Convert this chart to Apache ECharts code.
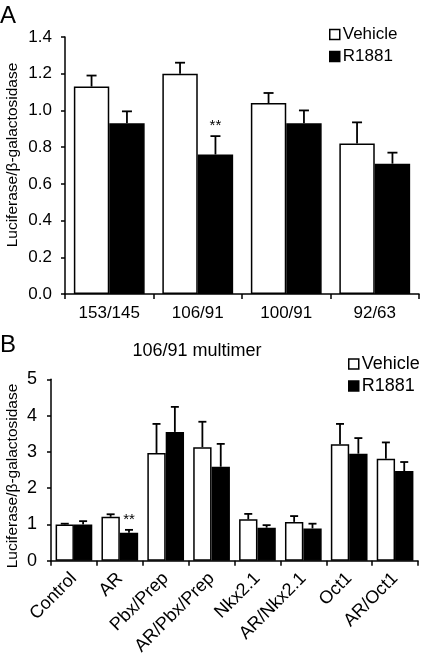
<!DOCTYPE html>
<html>
<head>
<meta charset="utf-8">
<script src="https://cdn.jsdelivr.net/npm/echarts@6/dist/echarts.min.js"></script>
<style>
html,body{margin:0;padding:0;background:#fff;}
#c{width:422px;height:662px;}
</style>
</head>
<body>
<div id="c"></div>
<script>
// Panel A data
const catsA = ['153/145', '106/91', '100/91', '92/63'];
const vehA = [1.13, 1.20, 1.04, 0.82];
const vehErrA = [0.06, 0.06, 0.055, 0.115];
const r1881A = [0.93, 0.76, 0.93, 0.71];
const r1881ErrA = [0.065, 0.10, 0.07, 0.06];
const sigA = [false, true, false, false];
const yTicksA = [0, 0.2, 0.4, 0.6, 0.8, 1.0, 1.2, 1.4];

// Panel B data
const catsB = ['Control', 'AR', 'Pbx/Prep', 'AR/Pbx/Prep', 'Nkx2.1', 'AR/Nkx2.1', 'Oct1', 'AR/Oct1'];
const vehB = [1.0, 1.21, 2.97, 3.13, 1.14, 1.07, 3.21, 2.81];
const vehErrB = [0.02, 0.07, 0.80, 0.70, 0.15, 0.16, 0.56, 0.45];
const r1881B = [1.0, 0.77, 3.55, 2.59, 0.91, 0.89, 2.95, 2.47];
const r1881ErrB = [0.09, 0.08, 0.69, 0.63, 0.07, 0.13, 0.43, 0.25];
const sigB = [false, true, false, false, false, false, false, false];
const yTicksB = [0, 1, 2, 3, 4, 5];

const FONT = '"Liberation Sans", Arial, sans-serif';
const GAP = 0.2;

function errSeries(name, vals, errs, sig, side, axisIdx, capW) {
  return {
    type: 'custom',
    name: name + ' err',
    xAxisIndex: axisIdx,
    yAxisIndex: axisIdx,
    z: 10,
    silent: true,
    encode: {x: 0, y: 1},
    data: vals.map((v, i) => [i, v, errs[i], sig[i] ? 1 : 0]),
    renderItem: function (params, api) {
      const i = api.value(0), v = api.value(1), e = api.value(2);
      const catW = api.size([1, 0])[0];
      const off = side * (1 - GAP) / 4 * catW;
      const base = api.coord([i, v]);
      const top = api.coord([i, v + e]);
      const x = base[0] + off;
      const children = [
        {type: 'line', shape: {x1: x, y1: base[1], x2: x, y2: top[1]}, style: {stroke: '#000', lineWidth: 1.8}},
        {type: 'line', shape: {x1: x - capW / 2, y1: top[1], x2: x + capW / 2, y2: top[1]}, style: {stroke: '#000', lineWidth: 1.8}}
      ];
      if (api.value(3)) {
        children.push({type: 'text', style: {x: x, y: top[1] - 10, text: '**', fill: '#000', font: '15px ' + FONT, textAlign: 'center', textVerticalAlign: 'middle'}});
      }
      return {type: 'group', children: children};
    }
  };
}

const chart = echarts.init(document.getElementById('c'));
const axisLine = {show: true, lineStyle: {color: '#000', width: 1.5}};
const legendItems = [
  {name: 'Vehicle', itemStyle: {color: '#fff', borderColor: '#000', borderWidth: 1.5}},
  {name: 'R1881', itemStyle: {color: '#000', borderColor: '#000', borderWidth: 1.5}}
];
const option = {
  backgroundColor: '#fff',
  animation: false,
  textStyle: {fontFamily: FONT},
  grid: [
    {left: 65, right: 3, top: 37, bottom: 368},
    {left: 51, right: 4, top: 379.3, bottom: 101.3}
  ],
  legend: [
    {
      orient: 'vertical', left: 324, top: 21, icon: 'rect', itemWidth: 10, itemHeight: 10, itemGap: 5,
      textStyle: {fontSize: 17, color: '#000', fontFamily: FONT, padding: [0, 0, 0, -2]},
      data: legendItems
    },
    {
      orient: 'vertical', left: 343, top: 350, icon: 'rect', itemWidth: 10, itemHeight: 10, itemGap: 4,
      textStyle: {fontSize: 18, color: '#000', fontFamily: FONT, padding: [0, 0, 0, -2]},
      data: legendItems
    }
  ],
  xAxis: [
    {
      type: 'category', gridIndex: 0, data: catsA,
      axisLine: axisLine, axisTick: {show: true, length: 5, lineStyle: {color: '#000', width: 1.5}},
      axisLabel: {fontSize: 17, color: '#000', margin: 11, fontFamily: FONT}
    },
    {
      type: 'category', gridIndex: 1, data: catsB,
      axisLine: axisLine, axisTick: {show: true, length: 5, lineStyle: {color: '#000', width: 1.5}},
      axisLabel: {fontSize: 18, color: '#000', margin: 15, rotate: 45, interval: 0, fontFamily: FONT}
    }
  ],
  yAxis: [
    {
      type: 'value', gridIndex: 0, min: yTicksA[0], max: yTicksA[yTicksA.length - 1], interval: 0.2,
      splitLine: {show: false}, axisLine: axisLine,
      axisTick: {show: true, length: 4, lineStyle: {color: '#000', width: 1.5}},
      axisLabel: {fontSize: 17, color: '#000', margin: 13, fontFamily: FONT, formatter: v => v.toFixed(1)}
    },
    {
      type: 'value', gridIndex: 1, min: yTicksB[0], max: yTicksB[yTicksB.length - 1], interval: 1,
      splitLine: {show: false}, axisLine: axisLine,
      axisTick: {show: true, length: 4, lineStyle: {color: '#000', width: 1.5}},
      axisLabel: {fontSize: 18, color: '#000', margin: 14, fontFamily: FONT}
    }
  ],
  series: [
    {type: 'bar', name: 'Vehicle', xAxisIndex: 0, yAxisIndex: 0, data: vehA, barGap: '0%', barCategoryGap: '20%',
      itemStyle: {color: '#fff', borderColor: '#000', borderWidth: 1.5}},
    {type: 'bar', name: 'R1881', xAxisIndex: 0, yAxisIndex: 0, data: r1881A, barGap: '0%', barCategoryGap: '20%',
      itemStyle: {color: '#000', borderColor: '#000', borderWidth: 1.5}},
    {type: 'bar', name: 'Vehicle', xAxisIndex: 1, yAxisIndex: 1, data: vehB, barGap: '0%', barCategoryGap: '20%',
      itemStyle: {color: '#fff', borderColor: '#000', borderWidth: 1.5}},
    {type: 'bar', name: 'R1881', xAxisIndex: 1, yAxisIndex: 1, data: r1881B, barGap: '0%', barCategoryGap: '20%',
      itemStyle: {color: '#000', borderColor: '#000', borderWidth: 1.5}},
    errSeries('Vehicle', vehA, vehErrA, catsA.map(() => false), -1, 0, 10),
    errSeries('R1881', r1881A, r1881ErrA, sigA, 1, 0, 10),
    errSeries('Vehicle', vehB, vehErrB, catsB.map(() => false), -1, 1, 8),
    errSeries('R1881', r1881B, r1881ErrB, sigB, 1, 1, 8)
  ],
  graphic: [
    {type: 'text', left: 0, top: 4, style: {text: 'A', font: '24px ' + FONT, fill: '#000'}},
    {type: 'text', left: 0, top: 333, style: {text: 'B', font: '24px ' + FONT, fill: '#000'}},
    {type: 'text', x: 197, y: 351, style: {text: '106/91 multimer', font: '18px ' + FONT, fill: '#000', textAlign: 'center', textVerticalAlign: 'middle'}},
    {type: 'text', x: 13, y: 155, rotation: Math.PI / 2, style: {text: 'Luciferase/β-galactosidase', font: '15.5px ' + FONT, fill: '#000', textAlign: 'center', textVerticalAlign: 'middle'}},
    {type: 'text', x: 13, y: 476, rotation: Math.PI / 2, style: {text: 'Luciferase/β-galactosidase', font: '15.5px ' + FONT, fill: '#000', textAlign: 'center', textVerticalAlign: 'middle'}}
  ]
};
chart.setOption(option);
</script>
</body>
</html>
